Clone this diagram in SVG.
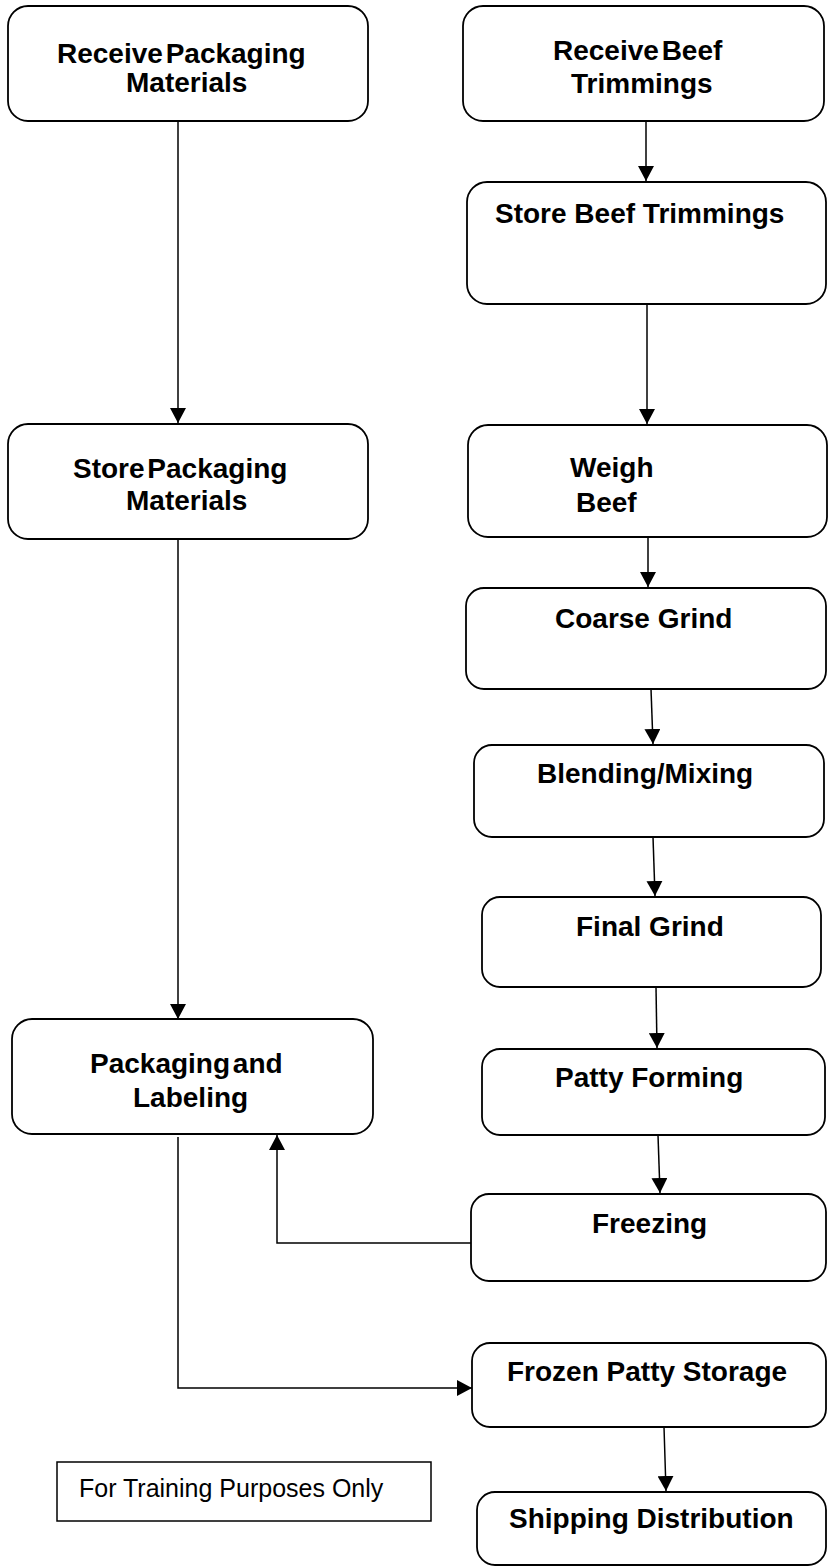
<svg xmlns="http://www.w3.org/2000/svg" width="828" height="1568" viewBox="0 0 828 1568">
<style>
.box{fill:#fff;stroke:#000;stroke-width:1.8}
.lbl{font-family:"Liberation Sans",Arial,sans-serif;font-weight:bold;font-size:28px;fill:#000}
.tight{word-spacing:-5px}
.con{fill:none;stroke:#000;stroke-width:1.5}
.note{font-family:"Liberation Sans",Arial,sans-serif;font-size:25px;fill:#000}
</style>
<defs>
<marker id="arr" markerUnits="userSpaceOnUse" markerWidth="16" markerHeight="16" refX="15" refY="8" orient="auto">
<path d="M0,0 L15,8 L0,16 z" fill="#000"/>
</marker>
</defs>
<rect width="828" height="1568" fill="#fff"/>
<g id="connectors">
<path class="con" d="M178,121 V423" marker-end="url(#arr)"/>
<path class="con" d="M178,539 V1019" marker-end="url(#arr)"/>
<path class="con" d="M646,121 V181" marker-end="url(#arr)"/>
<path class="con" d="M647,304 V424" marker-end="url(#arr)"/>
<path class="con" d="M648,537 V587" marker-end="url(#arr)"/>
<path class="con" d="M651,689 L653,744" marker-end="url(#arr)"/>
<path class="con" d="M653,837 L655,896" marker-end="url(#arr)"/>
<path class="con" d="M656,987 L657,1048" marker-end="url(#arr)"/>
<path class="con" d="M658,1135 L660,1193" marker-end="url(#arr)"/>
<path class="con" d="M471,1243 H277 V1135" stroke-width="2" marker-end="url(#arr)"/>
<path class="con" d="M178,1137 V1388 H472" marker-end="url(#arr)"/>
<path class="con" d="M664,1427 L666,1491" marker-end="url(#arr)"/>
</g>
<g id="receive-packaging">
<rect class="box" x="8" y="6" width="360" height="115" rx="20"/>
<text class="lbl tight" x="57" y="63">Receive Packaging</text>
<text class="lbl" x="126" y="92">Materials</text>
</g>
<g id="store-packaging">
<rect class="box" x="8" y="424" width="360" height="115" rx="20"/>
<text class="lbl tight" x="73" y="478">Store Packaging</text>
<text class="lbl" x="126" y="510">Materials</text>
</g>
<g id="packaging-labeling">
<rect class="box" x="12" y="1019" width="361" height="115" rx="20"/>
<text class="lbl tight" x="90" y="1073">Packaging and</text>
<text class="lbl" x="133" y="1107">Labeling</text>
</g>
<g id="receive-beef">
<rect class="box" x="463" y="6" width="361" height="115" rx="20"/>
<text class="lbl tight" x="553" y="60">Receive Beef</text>
<text class="lbl" x="571" y="93">Trimmings</text>
</g>
<g id="store-beef">
<rect class="box" x="467" y="182" width="359" height="122" rx="20"/>
<text class="lbl" x="495" y="223">Store Beef Trimmings</text>
</g>
<g id="weigh-beef">
<rect class="box" x="468" y="425" width="359" height="112" rx="20"/>
<text class="lbl" x="570" y="477">Weigh</text>
<text class="lbl" x="576" y="512">Beef</text>
</g>
<g id="coarse-grind">
<rect class="box" x="466" y="588" width="360" height="101" rx="18"/>
<text class="lbl" x="555" y="628">Coarse Grind</text>
</g>
<g id="blending">
<rect class="box" x="474" y="745" width="350" height="92" rx="18"/>
<text class="lbl" x="537" y="783">Blending/Mixing</text>
</g>
<g id="final-grind">
<rect class="box" x="482" y="897" width="339" height="90" rx="18"/>
<text class="lbl" x="576" y="936">Final Grind</text>
</g>
<g id="patty-forming">
<rect class="box" x="482" y="1049" width="343" height="86" rx="18"/>
<text class="lbl" x="555" y="1087">Patty Forming</text>
</g>
<g id="freezing">
<rect class="box" x="471" y="1194" width="355" height="87" rx="18"/>
<text class="lbl" x="592" y="1233">Freezing</text>
</g>
<g id="frozen-storage">
<rect class="box" x="472" y="1343" width="354" height="84" rx="18"/>
<text class="lbl" x="507" y="1381">Frozen Patty Storage</text>
</g>
<g id="shipping">
<rect class="box" x="477" y="1492" width="349" height="73" rx="18"/>
<text class="lbl" x="509" y="1528">Shipping Distribution</text>
</g>
<g id="training-note">
<rect x="57" y="1462" width="374" height="59" fill="#fff" stroke="#000" stroke-width="1.5"/>
<text class="note" x="79" y="1497">For Training Purposes Only</text>
</g>
</svg>
